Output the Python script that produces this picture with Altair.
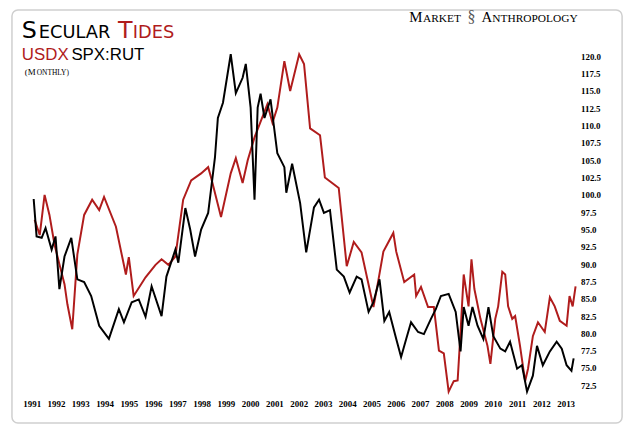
import altair as alt
import pandas as pd

red_t = [1991.12,1991.33,1991.53,1991.73,1991.94,1992.14,1992.35,1992.47,1992.67,1992.88,1993.16,1993.49,1993.78,1993.98,1994.47,1994.88,1995.0,1995.2,1995.69,1996.1,1996.35,1996.63,1996.92,1997.24,1997.57,1997.98,1998.27,1998.39,1998.8,1999.2,1999.41,1999.69,1999.9,2000.18,2000.71,2000.92,2001.12,2001.41,2001.65,2002.02,2002.22,2002.47,2002.88,2003.08,2003.65,2003.98,2004.27,2004.59,2004.92,2005.08,2005.29,2005.49,2005.9,2006.02,2006.35,2006.76,2006.84,2007.04,2007.33,2007.57,2007.78,2007.98,2008.18,2008.39,2008.55,2008.67,2008.8,2009.0,2009.12,2009.24,2009.49,2009.78,2009.9,2010.1,2010.22,2010.39,2010.51,2010.63,2010.8,2010.92,2011.12,2011.33,2011.45,2011.65,2011.86,2012.14,2012.35,2012.55,2012.76,2013.04,2013.16,2013.29,2013.41]
red_v = [96.4,94.2,100.0,97.1,92.8,90.0,87.1,84.2,80.6,91.4,97.1,99.3,97.8,99.7,95.4,88.5,91.0,85.4,88.1,89.9,90.7,89.9,91.1,99.3,102.1,103.1,104.0,102.5,96.8,103.1,105.3,101.7,105.0,108.3,113.1,110.4,112.6,119.3,115.0,120.3,118.9,109.6,108.6,102.5,101.0,89.7,93.2,91.7,86.4,83.8,87.8,91.8,94.5,91.8,87.4,88.5,85.4,86.7,83.8,83.8,77.5,77.1,71.6,73.1,73.2,80.2,88.5,83.9,90.7,86.4,82.1,78.2,75.6,82.1,83.9,88.9,88.5,83.9,82.1,82.5,78.2,73.1,74.9,79.6,81.6,80.2,85.2,83.9,81.8,81.1,85.4,83.9,86.8]

blk_t = [1991.08,1991.2,1991.41,1991.57,1991.82,1991.98,1992.14,1992.35,1992.63,1992.88,1993.16,1993.45,1993.78,1994.18,1994.59,1994.8,1995.12,1995.41,1995.69,1995.94,1996.35,1996.55,1996.92,1997.04,1997.33,1997.53,1997.73,1997.98,1998.27,1998.55,1998.67,1998.88,1999.2,1999.41,1999.69,1999.82,2000.02,2000.18,2000.31,2000.43,2000.59,2000.84,2001.12,2001.41,2001.49,2001.73,2002.06,2002.31,2002.63,2002.84,2003.04,2003.29,2003.57,2003.86,2004.1,2004.39,2004.59,2004.88,2005.08,2005.33,2005.53,2005.73,2006.02,2006.22,2006.43,2006.63,2006.92,2007.16,2007.45,2007.65,2007.86,2008.18,2008.47,2008.67,2008.8,2009.0,2009.16,2009.37,2009.61,2009.82,2010.02,2010.31,2010.51,2010.71,2011.0,2011.2,2011.41,2011.65,2011.82,2012.06,2012.35,2012.63,2012.84,2013.04,2013.24,2013.33]
blk_v = [99.4,94.0,93.8,95.2,92.1,94.0,86.4,91.1,93.8,87.8,87.4,85.4,81.1,79.2,83.5,81.6,84.5,84.9,82.4,86.8,82.5,88.2,92.1,90.2,98.1,95.0,91.1,95.0,97.4,105.4,111.1,113.3,120.3,114.7,116.9,118.9,112.6,99.3,112.6,114.6,111.1,113.8,106.0,104.0,100.3,104.5,98.8,91.7,98.2,99.3,97.4,97.8,89.2,88.2,85.9,88.2,87.8,83.1,84.5,87.8,81.8,83.1,79.2,76.6,79.2,81.6,80.2,79.9,82.1,83.5,85.4,85.7,83.1,77.4,83.8,81.1,83.8,81.1,79.2,83.8,79.6,77.8,77.4,78.8,74.9,75.4,71.6,73.9,78.2,75.4,77.4,78.8,77.8,75.4,74.6,76.4]

years = list(range(1991, 2014))
yticks = [72.5 + 2.5 * i for i in range(20)]

df = pd.concat([
    pd.DataFrame({"t": red_t, "v": red_v, "s": "USDX"}),
    pd.DataFrame({"t": blk_t, "v": blk_v, "s": "SPX:RUT"}),
])

x = alt.X("t:Q", scale=alt.Scale(domain=[1990.92, 2013.49], nice=False, zero=False),
          axis=alt.Axis(values=years, format="d", grid=False, domain=False, ticks=False,
                        labelFont="Liberation Serif", labelFontWeight="bold", labelFontSize=9,
                        labelColor="#000", labelPadding=6, labelFlush=False, title=None))
y = alt.Y("v:Q", scale=alt.Scale(domain=[71.35, 121.4], nice=False, zero=False),
          axis=alt.Axis(orient="right", values=yticks, format=".1f", grid=False, domain=False,
                        ticks=False, labelFont="Liberation Serif", labelFontWeight="bold",
                        labelFontSize=9, labelColor="#000", labelPadding=3, title=None))

lines = alt.Chart(df).mark_line(strokeWidth=2, clip=False).encode(
    x=x, y=y,
    color=alt.Color("s:N", scale=alt.Scale(domain=["USDX", "SPX:RUT"], range=["#b01c1c", "#000000"]), legend=None),
    order=alt.Order("t:Q"),
)

frame = alt.Chart(pd.DataFrame({"a": [0]})).mark_rect(
    fill=None, stroke="#cfcfcf", strokeWidth=1.5, cornerRadius=6, clip=False
).encode(x=alt.value(-18), x2=alt.value(598), y=alt.value(-37), y2=alt.value(380))

def txt(s, px, py, size, color="#000", font="Liberation Sans", weight="normal", align="left"):
    return alt.Chart(pd.DataFrame({"a": [0]})).mark_text(
        text=s, fontSize=size, color=color, font=font, fontWeight=weight, align=align,
        baseline="alphabetic", clip=False
    ).encode(x=alt.value(px), y=alt.value(py))

texts = [
    txt("S", -8, -9, 24, font="DejaVu Sans"),
    txt("ECULAR", 9, -9, 18, font="DejaVu Sans"),
    txt("T", 89, -9, 24, "#b01c1c", font="DejaVu Sans"),
    txt("IDES", 104, -9, 18, "#b01c1c", font="DejaVu Sans"),
    txt("USDX", -8, 13, 17, "#b01c1c"),
    txt("SPX:RUT", 42, 13, 17),
    txt("(M", -5, 29, 9, font="Liberation Serif"),
    txt("ONTHLY)", 7, 29, 7.5, font="Liberation Serif"),
    txt("M", 383, -25, 15, font="Liberation Serif"),
    txt("ARKET", 397, -25, 11.5, font="Liberation Serif"),
    txt("§", 442, -25, 16, "#555", font="Liberation Serif"),
    txt("A", 456, -25, 15, font="Liberation Serif"),
    txt("NTHROPOLOGY", 467, -25, 11.5, font="Liberation Serif"),
]

chart = alt.layer(frame, lines, *texts).properties(
    width=553, height=350,
    autosize=alt.AutoSizeParams(type="none"),
    padding={"left": 22, "top": 37, "right": 55, "bottom": 30},
).configure_view(stroke=None)

chart.save("out.html", embed_options={"renderer": "svg", "actions": False})
